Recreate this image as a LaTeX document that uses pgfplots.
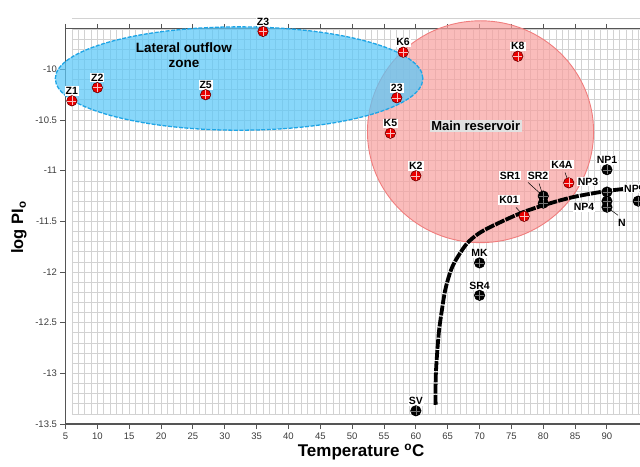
\documentclass[border=0pt]{standalone}
\usepackage{pgfplots}
\pgfplotsset{compat=1.18}
\usepackage{fontspec}
\setmainfont{Liberation Sans}

\definecolor{gridgray}{RGB}{210,210,210}
\definecolor{axisgray}{RGB}{85,85,85}
\definecolor{ticktext}{RGB}{60,60,60}
\definecolor{zonefill}{RGB}{90,200,248}
\definecolor{zoneedge}{RGB}{30,165,230}
\definecolor{resfill}{RGB}{248,160,158}
\definecolor{resedge}{RGB}{240,125,125}
\definecolor{ptred}{RGB}{235,0,0}
\definecolor{ptedge}{RGB}{110,0,0}
\definecolor{boxgray}{RGB}{225,225,225}

% wells plotted as red discs (reservoir and outflow zone)
\pgfplotstableread{
T     logPI
6     -10.31
10    -10.18
27    -10.25
36    -9.625
58    -9.83
57    -10.28
56    -10.63
60    -11.05
76    -9.87
84    -11.12
77    -11.45
}\redwells

% wells plotted as black discs
\pgfplotstableread{
T     logPI
80    -11.25
80    -11.32
90    -10.99
90    -11.21
90    -11.30
90    -11.36
94.9  -11.30
70    -11.91
70    -12.23
60    -13.37
}\blackwells

\begin{document}
\begin{tikzpicture}[
  lbl/.style={font=\fontsize{10.5}{12}\selectfont\bfseries, fill=white, inner sep=1pt, text=black},
  lead/.style={black, line width=0.5pt}]
\begin{axis}[
  at={(0,0)}, anchor=south west,
  scale only axis, width=579.7pt, height=395.1pt,
  xmin=5, xmax=96, ymin=-13.5, ymax=-9.6,
  clip=false,
  axis line style={axisgray, line width=1.2pt},
  tick style={axisgray, line width=1pt},
  tick align=outside, major tick length=5pt,
  xtick={5,10,...,90}, ytick={-13.5,-13,...,-10},
  xtick pos=both, xticklabel pos=lower, ytick pos=left,
  ticklabel style={font=\fontsize{9.5}{11}\selectfont, text=ticktext},
  /pgf/number format/assume math mode=true,
]
% background grid, 1 degC by 0.1 log units
\pgfplotsinvokeforeach{6,...,96}{
  \draw[gridgray, line width=0.7pt] (axis cs:#1,-13.4) -- (axis cs:#1,-9.6);
}
\pgfplotsinvokeforeach{-13.4,-13.3,...,-9.55}{
  \draw[gridgray, line width=0.7pt] (axis cs:6,#1) -- (axis cs:96,#1);
}

% zones
\draw[resedge, line width=0.9pt, fill=resfill, fill opacity=0.7]
  (axis cs:70.15,-10.615) ellipse [x radius=17.75, y radius=1.095];
\draw[zoneedge, line width=1.3pt, dash pattern=on 4pt off 1.5pt, fill=zonefill, fill opacity=0.72]
  (axis cs:32.25,-10.09) ellipse [x radius=28.85, y radius=0.51];

% trend curve
\addplot[black, line width=3.8pt, smooth, dash pattern=on 10pt off 1.2pt] coordinates {
  (63.1,-13.31) (63.1,-13.1) (63.2,-12.93) (63.6,-12.6) (64.1,-12.37)
  (64.6,-12.18) (65.3,-12.02) (66.1,-11.9) (68.0,-11.72) (70.1,-11.61)
  (73.2,-11.51) (76.8,-11.41) (80.6,-11.33) (84.7,-11.26) (90,-11.2) (95.5,-11.16)
};

% leader lines
\draw[lead] (axis cs:77.6,-11.115) -- (axis cs:79.96,-11.25);
\draw[lead] (axis cs:79.33,-11.125) -- (axis cs:80,-11.25);
\draw[lead] (axis cs:83.41,-11.017) -- (axis cs:84,-11.12);
\draw[lead] (axis cs:75.72,-11.362) -- (axis cs:77,-11.45);
\draw[lead] (axis cs:91.74,-11.44) -- (axis cs:90,-11.36);

% wells
\addplot[only marks, mark=*, mark size=5.2pt, mark options={fill=ptred, draw=ptedge, line width=0.6pt}] table[x=T, y=logPI] {\redwells};
\addplot[only marks, mark=*, mark size=5.2pt, mark options={fill=black, draw=black, line width=0.6pt}] table[x=T, y=logPI] {\blackwells};
\addplot[only marks, mark=+, mark size=4.4pt, mark options={white, line width=0.35pt, opacity=0.75}] table[x=T, y=logPI] {\redwells};
\addplot[only marks, mark=+, mark size=4.4pt, mark options={white, line width=0.3pt, opacity=0.45}] table[x=T, y=logPI] {\blackwells};

% zone titles
\node[font=\fontsize{13.5}{15}\selectfont\bfseries, align=center] at (axis cs:23.6,-9.857) {Lateral outflow\\zone};
\node[font=\fontsize{13}{15}\selectfont\bfseries, fill=boxgray, inner sep=1.5pt] at (axis cs:69.4,-10.56) {Main reservoir};

% well names
\foreach \px/\py/\nm in {6/-10.31/Z1, 10/-10.18/Z2, 27/-10.25/Z5, 36/-9.625/Z3,
    58/-9.83/K6, 57/-10.28/23, 56/-10.63/K5, 60/-11.05/K2, 76/-9.87/K8,
    90/-10.99/NP1, 70/-11.91/MK, 70/-12.23/SR4, 60/-13.37/SV}{
  \edef\temp{\noexpand\node[lbl, anchor=south, yshift=5pt] at (axis cs:\px,\py) {\nm};}
  \temp
}
\node[lbl] at (axis cs:74.78,-11.046) {SR1};
\node[lbl] at (axis cs:79.18,-11.046) {SR2};
\node[lbl] at (axis cs:82.94,-10.94) {K4A};
\node[lbl] at (axis cs:87.02,-11.106) {NP3};
\node[lbl] at (axis cs:74.62,-11.29) {K01};
\node[lbl] at (axis cs:86.40,-11.36) {NP4};
\node[lbl, fill=none] at (axis cs:92.36,-11.51) {N};
\node[lbl, anchor=east, inner sep=0.5pt] at (axis cs:95.1,-11.175) {NP};

% axis titles
\node[font=\fontsize{17}{19}\selectfont\bfseries] at (axis cs:51.4,-13.78) {Temperature \textsuperscript{o}C};
\node[font=\fontsize{16.5}{19}\selectfont\bfseries, rotate=90] at (axis cs:-2.3,-11.56) {log PI\textsubscript{o}};
\end{axis}
\pgfresetboundingbox
\path[use as bounding box] (-65.5pt,-42pt) rectangle (574.5pt,424pt);
\end{tikzpicture}
\end{document}
